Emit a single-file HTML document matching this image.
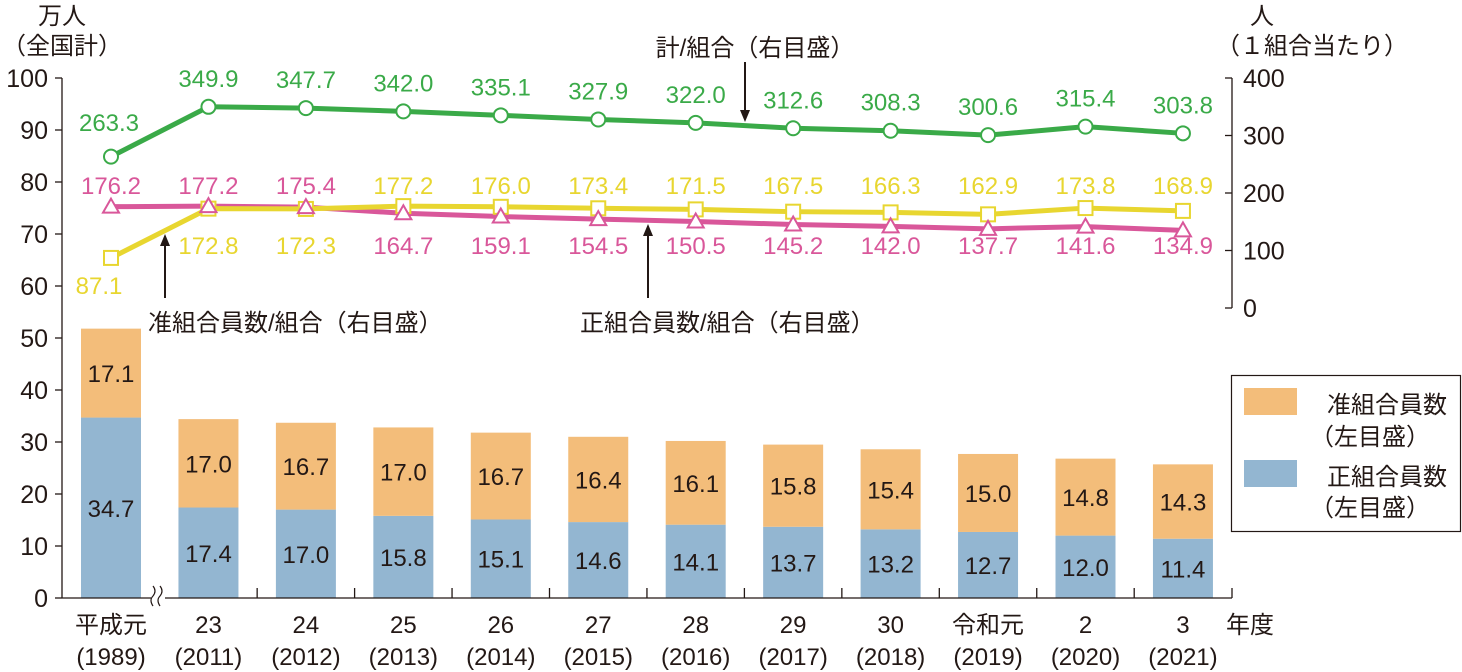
<!DOCTYPE html>
<html><head><meta charset="utf-8"><style>
body{margin:0;background:#fff}
svg{display:block;font-family:"Liberation Sans","Noto Sans CJK JP",sans-serif}
</style></head><body>
<svg id="c" width="1462" height="672" viewBox="0 0 1462 672"></svg>
<script>
const cats1=["平成元","23","24","25","26","27","28","29","30","令和元","2","3"];
const cats2=["(1989)","(2011)","(2012)","(2013)","(2014)","(2015)","(2016)","(2017)","(2018)","(2019)","(2020)","(2021)"];
const seiBar=[34.7,17.4,17.0,15.8,15.1,14.6,14.1,13.7,13.2,12.7,12.0,11.4];
const junBar=[17.1,17.0,16.7,17.0,16.7,16.4,16.1,15.8,15.4,15.0,14.8,14.3];
const totalPer=[263.3,349.9,347.7,342.0,335.1,327.9,322.0,312.6,308.3,300.6,315.4,303.8];
const junPer=[87.1,172.8,172.3,177.2,176.0,173.4,171.5,167.5,166.3,162.9,173.8,168.9];
const seiPer=[176.2,177.2,175.4,164.7,159.1,154.5,150.5,145.2,142.0,137.7,141.6,134.9];
const leftTicks=[0,10,20,30,40,50,60,70,80,90,100];
const rightTicks=[0,100,200,300,400];

const svg=document.getElementById('c');
const NS='http://www.w3.org/2000/svg';
function mk(tag,at,txt,name){const e=document.createElementNS(NS,tag);for(const k in at)e.setAttribute(k,at[k]);if(txt!=null)e.textContent=txt;


svg.appendChild(e);return e;}
const yL=v=>598-v*5.2;
const yR=v=>308-v*0.575;
const xC=i=>111+i*97.45;
const GREEN='#3aaa48',PINK='#d9579a',YEL='#e8d630',ORA='#f3bd7a',BLUE='#93b6d1',INK='#231815';

// bars
for(let i=0;i<cats1.length;i++){
  const x=xC(i)-30;
  mk('rect',{x:x,y:yL(seiBar[i]),width:60,height:yL(0)-yL(seiBar[i]),fill:BLUE},null,'bar-sei-'+i);
  mk('rect',{x:x,y:yL(seiBar[i]+junBar[i]),width:60,height:yL(0)-yL(junBar[i]),fill:ORA},null,'bar-jun-'+i);
  mk('text',{x:xC(i),y:(yL(0)+yL(seiBar[i]))/2+9,'font-size':24,'text-anchor':'middle',fill:INK},seiBar[i].toFixed(1),'bar-sei-label');
  mk('text',{x:xC(i),y:(yL(seiBar[i])+yL(seiBar[i]+junBar[i]))/2+9,'font-size':24,'text-anchor':'middle',fill:INK},junBar[i].toFixed(1),'bar-jun-label');
}
// axes
mk('line',{x1:62,y1:78,x2:62,y2:598,stroke:INK,'stroke-width':1.3},null,'left-axis');
mk('line',{x1:1232,y1:78,x2:1232,y2:308,stroke:INK,'stroke-width':1.3},null,'right-axis');
mk('line',{x1:62,y1:598,x2:1232,y2:598,stroke:INK,'stroke-width':1.3},null,'x-axis');
mk('line',{x1:1232,y1:598,x2:1232,y2:588,stroke:INK,'stroke-width':1.3},null,'x-tick');
for(let i=0;i<cats1.length-1;i++)mk('line',{x1:xC(i)+48.7,y1:598,x2:xC(i)+48.7,y2:588,stroke:INK,'stroke-width':1.3},null,'x-tick');
// break mark
mk('rect',{x:151,y:588,width:14,height:16,fill:'#fff'},null,'axis-break-bg');
mk('path',{d:'M153 606 q-4 -6 0 -10 q4 -5 0 -10 M160 606 q-4 -6 0 -10 q4 -5 0 -10',fill:'none',stroke:INK,'stroke-width':1.2},null,'axis-break');
leftTicks.forEach(v=>{mk('line',{x1:55,y1:yL(v),x2:62,y2:yL(v),stroke:INK,'stroke-width':1.3},null,'left-tick');
 mk('text',{x:48,y:yL(v)+9,'font-size':25,'text-anchor':'end',fill:INK},String(v),'left-tick-label');});
rightTicks.forEach(v=>{mk('line',{x1:1225,y1:yR(v),x2:1232,y2:yR(v),stroke:INK,'stroke-width':1.3},null,'right-tick');
 mk('text',{x:1243,y:yR(v)+9,'font-size':25,'text-anchor':'start',fill:INK},String(v),'right-tick-label');});
for(let i=0;i<cats1.length;i++){
  mk('text',{x:xC(i),y:633,'font-size':24,'text-anchor':'middle',fill:INK},cats1[i],'x-label');
  mk('text',{x:xC(i),y:665,'font-size':24,'text-anchor':'middle',fill:INK},cats2[i],'x-label-year');
}
mk('text',{x:1250,y:633,'font-size':24,'text-anchor':'middle',fill:INK},'年度','x-axis-title');
mk('text',{x:62,y:24,'font-size':24,'text-anchor':'middle',fill:INK},'万人','left-axis-title');
mk('text',{x:62,y:54,'font-size':24,'text-anchor':'middle',fill:INK},'（全国計）','left-axis-subtitle');
mk('text',{x:1262,y:24,'font-size':24,'text-anchor':'middle',fill:INK},'人','right-axis-title');
mk('text',{x:1312,y:54,'font-size':24,'text-anchor':'middle',fill:INK},'（１組合当たり）','right-axis-subtitle');

// lines
function line(vals,color,name){
  mk('polyline',{points:vals.map((v,i)=>xC(i)+','+yR(v)).join(' '),fill:'none',stroke:color,'stroke-width':5,'stroke-linejoin':'round'},null,name);
}
line(seiPer,PINK,'line-sei-per');
line(junPer,YEL,'line-jun-per');
line(totalPer,GREEN,'line-total-per');
junPer.forEach((v,i)=>mk('rect',{x:xC(i)-7,y:yR(v)-7,width:14,height:14,fill:'#fff',stroke:YEL,'stroke-width':2},null,'point-jun'));
seiPer.forEach((v,i)=>{const x=xC(i),y=yR(v);mk('path',{d:`M${x} ${y-8} L${x+8} ${y+6} L${x-8} ${y+6}Z`,fill:'#fff',stroke:PINK,'stroke-width':2},null,'point-sei');});
totalPer.forEach((v,i)=>mk('circle',{cx:xC(i),cy:yR(v),r:7,fill:'#fff',stroke:GREEN,'stroke-width':2},null,'point-total'));
// labels
totalPer.forEach((v,i)=>mk('text',{x:xC(i)-(i===0?2:0),y:i===0?131:yR(v)-20,'font-size':24,'text-anchor':'middle',fill:GREEN},v.toFixed(1),'label-total'));
seiPer.forEach((v,i)=>mk('text',{x:xC(i),y:i<3?194:254,'font-size':24,'text-anchor':'middle',fill:PINK},v.toFixed(1),'label-sei'));
junPer.forEach((v,i)=>mk('text',{x:xC(i)+(i===0?-12:0),y:i===0?294:(i<3?254:194),'font-size':24,'text-anchor':'middle',fill:YEL},v.toFixed(1),'label-jun'));

// annotations
function arrow(x,y1,y2,name){mk('line',{x1:x,y1:y1,x2:x,y2:y2+(y2>y1?-8:8),stroke:INK,'stroke-width':2},null,name);
 const d=y2>y1?-1:1;mk('path',{d:`M${x} ${y2} L${x-5} ${y2+d*12} L${x+5} ${y2+d*12}Z`,fill:INK},null,name+'-head');}
mk('text',{x:755,y:56,'font-size':24,'text-anchor':'middle',fill:INK},'計/組合（右目盛）','annot-total');
arrow(745,62,122,'annot-total-arrow');
mk('text',{x:148,y:331,'font-size':24,fill:INK},'准組合員数/組合（右目盛）','annot-jun');
arrow(165,298,234,'annot-jun-arrow');
mk('text',{x:580,y:331,'font-size':24,fill:INK},'正組合員数/組合（右目盛）','annot-sei');
arrow(648,298,224,'annot-sei-arrow');

// legend
mk('rect',{x:1231.5,y:375.5,width:229,height:156,fill:'#fff',stroke:INK,'stroke-width':1.2},null,'legend-box');
mk('rect',{x:1244,y:388,width:53,height:27,fill:ORA},null,'legend-swatch-jun');
mk('text',{x:1447,y:413,'font-size':24,'text-anchor':'end',fill:INK},'准組合員数','legend-label-jun');
mk('text',{x:1430,y:445,'font-size':24,'text-anchor':'end',fill:INK},'（左目盛）','legend-sub-jun');
mk('rect',{x:1244,y:460,width:53,height:27,fill:BLUE},null,'legend-swatch-sei');
mk('text',{x:1447,y:485,'font-size':24,'text-anchor':'end',fill:INK},'正組合員数','legend-label-sei');
mk('text',{x:1430,y:516,'font-size':24,'text-anchor':'end',fill:INK},'（左目盛）','legend-sub-sei');
</script>
</body></html>
